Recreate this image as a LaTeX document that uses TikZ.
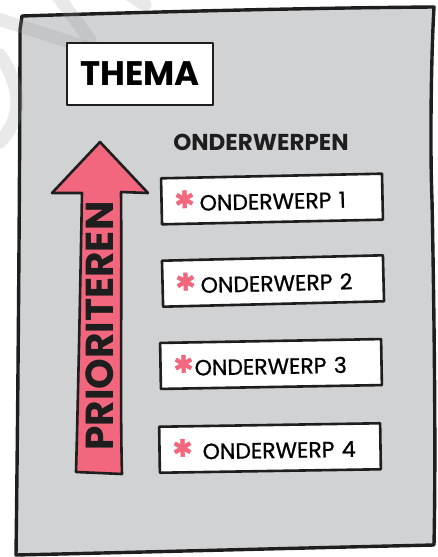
\documentclass[tikz,border=0pt]{standalone}
\usepackage{fontspec}
\setmainfont{Poppins}
\newfontfamily\medf[FakeBold=0.9]{Poppins}
\newfontfamily\symf[FakeBold=2]{DejaVu Sans}
\definecolor{panel}{HTML}{D1D2D4}
\definecolor{pinkc}{HTML}{F2677D}
\definecolor{ink}{HTML}{1E1E1E}
\definecolor{wm}{HTML}{9A9A9A}
\begin{document}
\begin{tikzpicture}[x=1pt,y=-1pt,line join=round,line cap=round,
  outline/.style={draw=ink,line width=2.6pt},
  watermark/.style={draw=wm,opacity=0.22,line width=13pt},
  card/.style={outline,fill=white,minimum width=221pt,minimum height=46pt,
    text width=195pt,inner xsep=13pt,align=left,
    font=\medf\fontsize{22}{22}\selectfont},
  titlebox/.style={outline,fill=white,minimum width=146pt,minimum height=62pt,
    font=\fontsize{34}{34}\selectfont\bfseries},
  heading/.style={font=\fontsize{23}{23}\selectfont\bfseries,text=ink},
  arrowtext/.style={font=\fontsize{39}{39}\selectfont\bfseries,text=ink,rotate=90,anchor=base}]
\useasboundingbox (0,0) rectangle (437,557);
\newcommand{\bulletstar}{\raisebox{3pt}{\textcolor{pinkc}{\symf\fontsize{24}{24}\selectfont ✱}}}
% panel
\path[fill=panel,draw=ink,line width=3.4pt]
  (22,16) .. controls (150,12) and (300,8) .. (434,7)
  .. controls (431,60) and (430,150) .. (432,200)
  .. controls (434,300) and (436,450) .. (434,545)
  .. controls (300,548) and (150,552) .. (16,555)
  .. controls (18,400) and (20,150) .. (20,30) -- cycle;
% watermark strokes
\draw[watermark] (-5,18) -- (95,50);
\draw[watermark] (57,-5) -- (90,40);
\draw[watermark] (130,-5) -- (145,5);
\draw[watermark] (0,55) .. controls (20,85) and (25,115) .. (0,142);
% title
\node[titlebox] (thema) at (140,74) {THEMA};
% heading
\node[heading] (onderwerpen) at (261,142) {ONDERWERPEN};
% cards
\node[card,rotate=1.2] (o1) at (272,199) {\bulletstar\hspace{5pt}ONDERWERP 1};
\node[card,rotate=1.4] (o2) at (273,281) {\bulletstar\hspace{5pt}ONDERWERP 2};
\node[card,rotate=1.0] (o3) at (271,364) {\bulletstar\hspace{1pt}ONDERWERP 3};
\node[card,rotate=0.9] (o4) at (270,448) {\bulletstar\hspace{10pt}ONDERWERP 4};
% arrow
\path[fill=pinkc,outline]
  (100,142) -- (148,193) -- (121,192)
  .. controls (122,300) and (120,400) .. (122,474)
  -- (76,472)
  .. controls (78,400) and (80,300) .. (82,193)
  -- (52,193) -- cycle;
\node[arrowtext] (prio) at (113,326) {PRIORITEREN};
\end{tikzpicture}
\end{document}
